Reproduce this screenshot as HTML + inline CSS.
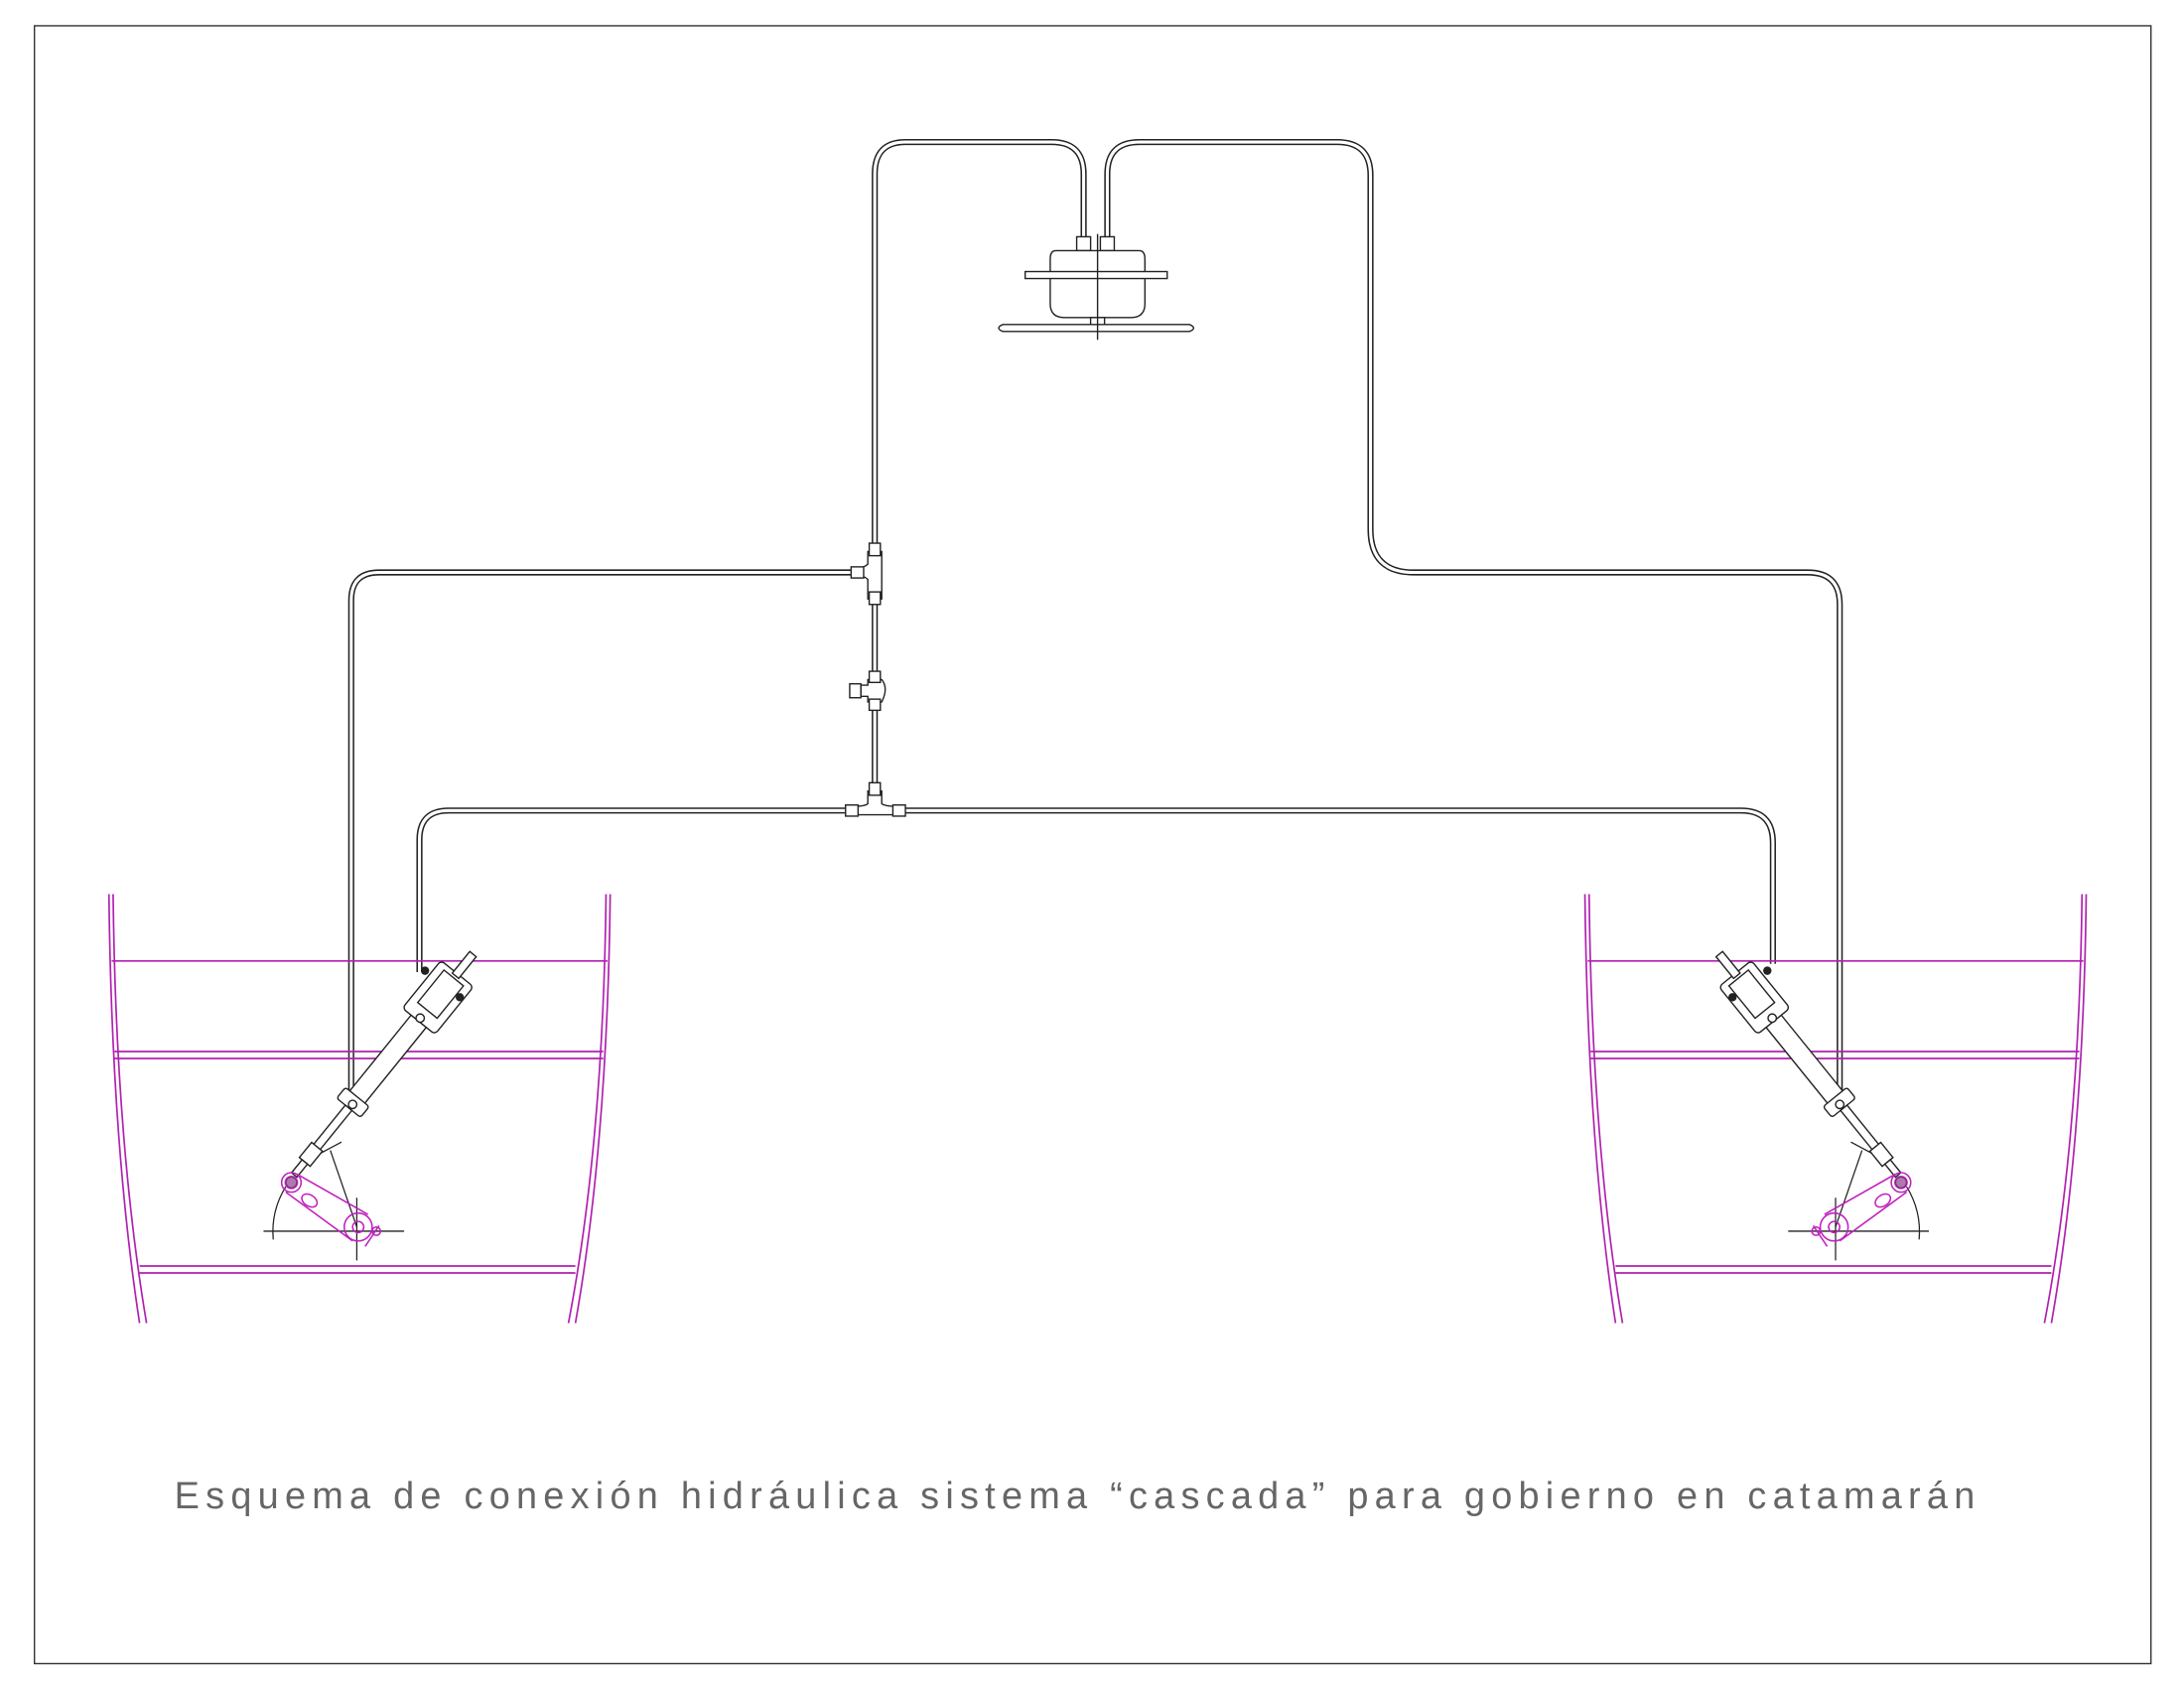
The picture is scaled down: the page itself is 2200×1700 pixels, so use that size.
<!DOCTYPE html>
<html><head><meta charset="utf-8"><style>
html,body{margin:0;padding:0;background:#fff;}
svg{display:block;}
</style></head><body>
<svg width="2200" height="1700" viewBox="0 0 1568 1212" xmlns="http://www.w3.org/2000/svg">
<defs>
<g id="cyl">
  <g fill="#fff" stroke="#222" stroke-width="1">
    <g transform="translate(301.7,731.7) rotate(129)">
      <rect x="2" y="-7" width="74" height="14"/>
      <rect x="-42" y="-15" width="44" height="30" rx="3"/>
      <rect x="-38" y="-9" width="30" height="18"/>
      <rect x="-60" y="-3" width="20" height="6"/>
      <rect x="72" y="-11" width="10" height="22" rx="2"/>
      <rect x="82" y="-3" width="40" height="6"/>
      <rect x="118" y="-5" width="14" height="10"/>
      <rect x="132" y="-2.5" width="12" height="5"/>
    </g>
    <circle cx="301.5" cy="731" r="3"/>
    <circle cx="253" cy="793" r="3"/>
  </g>
  <circle cx="305" cy="697" r="3" fill="#222"/>
  <circle cx="330" cy="716" r="3" fill="#222"/>
  <g fill="none" stroke="#222" stroke-width="0.9">
    <line x1="189" y1="884" x2="290" y2="884"/>
    <line x1="256" y1="860" x2="256" y2="905"/>
    <path d="M196,890 A62,62 0 0 1 205,852"/>
    <line x1="237" y1="826" x2="256" y2="881"/>
    <line x1="230" y1="828" x2="245" y2="820"/>
  </g>
  <g fill="none" stroke="#c020c0" stroke-width="1.1">
    <circle cx="209" cy="849" r="7"/><circle cx="209" cy="849" r="4"/>
    <circle cx="257" cy="881" r="10"/><circle cx="257" cy="881" r="4"/>
    <path d="M213,843 L264,872 M205,856 L253,891"/>
    <ellipse cx="222" cy="862" rx="6" ry="4" transform="rotate(33 222 862)"/>
    <circle cx="270" cy="884" r="3"/>
    <line x1="262" y1="895" x2="272" y2="880"/>
  </g>
  <circle cx="209" cy="849" r="5" fill="#7a207a" opacity="0.6"/>
</g>
</defs>
<rect x="0" y="0" width="1568" height="1212" fill="#fff"/>
<rect x="24.5" y="18.5" width="1520" height="1176" fill="none" stroke="#333" stroke-width="1"/>

<g fill="none" stroke-linejoin="round">
<g stroke="#222" stroke-width="4.4">
<path d="M778,172 V125 Q778,102 755,102 H650 Q628,102 628,125 V582"/>
<path d="M628,411 H272 Q252,411 252,431 V795"/>
<path d="M628,582 H322 Q301,582 301,603 V698"/>
<path d="M628,582 H1250 Q1273,582 1273,605 V692"/>
<path d="M795,172 V125 Q795,102 818,102 H960 Q984,102 984,126 V380 Q984,411 1015,411 H1298 Q1321,411 1321,434 V795"/>
</g>
<g stroke="#fff" stroke-width="2.2">
<path d="M778,172 V125 Q778,102 755,102 H650 Q628,102 628,125 V582"/>
<path d="M628,411 H272 Q252,411 252,431 V795"/>
<path d="M628,582 H322 Q301,582 301,603 V698"/>
<path d="M628,582 H1250 Q1273,582 1273,605 V692"/>
<path d="M795,172 V125 Q795,102 818,102 H960 Q984,102 984,126 V380 Q984,411 1015,411 H1298 Q1321,411 1321,434 V795"/>
</g>
</g>

<g fill="#fff" stroke="#222" stroke-width="1">
<path d="M623,396 H633 V430 H623 V416 Q620,413 614,413 V408 Q620,408 623,405 Z"/>
<path d="M623,488 H633 Q638,494 633,504 H623 V500 H618 V492 H623 Z"/>
<rect x="610" y="491" width="8" height="10"/>
<path d="M623,568 H633 V577 Q635,579 645,579 V585 H611 V579 Q621,579 623,577 Z"/>
<rect x="624" y="390" width="8" height="9"/>
<rect x="624" y="425" width="8" height="9"/>
<rect x="611" y="407" width="9" height="8"/>
<rect x="624" y="482" width="8" height="8"/>
<rect x="624" y="502" width="8" height="8"/>
<rect x="624" y="562" width="8" height="9"/>
<rect x="607" y="578" width="9" height="8"/>
<rect x="641" y="578" width="9" height="8"/>
</g>

<g fill="#fff" stroke="#222" stroke-width="1">
<rect x="773" y="170" width="10" height="10"/>
<rect x="790" y="170" width="10" height="10"/>
<path d="M758,180 H818 Q822,180 822,186 V218 Q822,228 812,228 H764 Q754,228 754,218 V186 Q754,180 758,180 Z"/>
<rect x="736" y="195" width="102" height="5"/>
<rect x="783" y="228" width="10" height="6"/>
<path d="M720,233 H854 Q860,235.5 854,238 H720 Q714,235.5 720,233 Z"/>
<line x1="788" y1="168" x2="788" y2="244"/>
</g>

<g fill="none" stroke="#b020b0" stroke-width="1.2">
<path d="M78,642 Q80,820 100,950"/><path d="M81,642 Q83,820 105,950"/>
<path d="M435,642 Q433,820 408,950"/><path d="M438,642 Q436,820 413,950"/>
<line x1="80" y1="690" x2="436" y2="690"/>
<line x1="82" y1="755" x2="433" y2="755"/><line x1="82" y1="760" x2="433" y2="760"/>
<line x1="100" y1="909" x2="413" y2="909"/><line x1="100" y1="914" x2="413" y2="914"/>
<path d="M1138,642 Q1140,820 1160,950"/><path d="M1141,642 Q1143,820 1165,950"/>
<path d="M1495,642 Q1493,820 1468,950"/><path d="M1498,642 Q1496,820 1473,950"/>
<line x1="1140" y1="690" x2="1496" y2="690"/>
<line x1="1142" y1="755" x2="1493" y2="755"/><line x1="1142" y1="760" x2="1493" y2="760"/>
<line x1="1160" y1="909" x2="1473" y2="909"/><line x1="1160" y1="914" x2="1473" y2="914"/>
</g>

<use href="#cyl"/>
<use href="#cyl" transform="translate(1574,0) scale(-1,1)"/>

<text x="125" y="1083" font-family="Liberation Sans, sans-serif" font-size="27" fill="#666" textLength="1293" lengthAdjust="spacing">Esquema de conexión hidráulica sistema “cascada” para gobierno en catamarán</text>
</svg>
</body></html>
